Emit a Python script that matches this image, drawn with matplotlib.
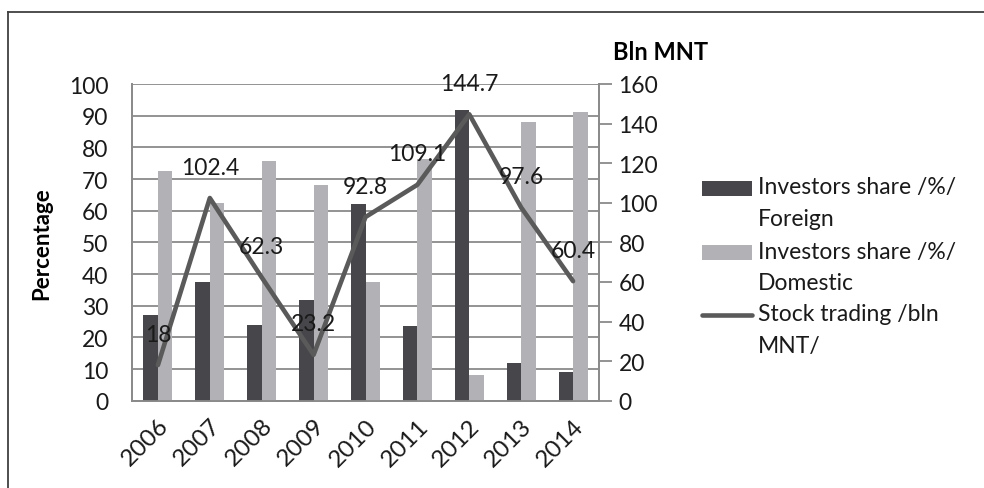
import matplotlib
matplotlib.use("Agg")
import matplotlib.pyplot as plt
import numpy as np
from matplotlib.patches import Rectangle
from matplotlib.lines import Line2D

plt.rcParams['font.family'] = ['Lato', 'DejaVu Sans']

years = ['2006', '2007', '2008', '2009', '2010', '2011', '2012', '2013', '2014']
foreign = [27.1, 37.4, 24.0, 31.8, 62.1, 23.5, 91.8, 11.9, 9.0]
domestic = [72.6, 62.4, 75.8, 68.0, 37.6, 76.3, 8.0, 87.9, 91.1]
trading = [18, 102.4, 62.3, 23.2, 92.8, 109.1, 144.7, 97.6, 60.4]
trading_labels = ['18', '102.4', '62.3', '23.2', '92.8', '109.1', '144.7', '97.6', '60.4']
left_ticks = [0, 10, 20, 30, 40, 50, 60, 70, 80, 90, 100]
right_ticks = [0, 20, 40, 60, 80, 100, 120, 140, 160]

C_FOR = '#47474b'
C_DOM = '#b2b2b6'
C_LINE = '#5a5a5a'
C_GRID = '#8a8a8a'
FS = 16.5

W, H = 984, 489
fig = plt.figure(figsize=(W / 100, H / 100), dpi=100)
fig.patch.set_facecolor('white')

L, R, T, B = 132, 599, 85, 401.7
ax = fig.add_axes([L / W, 1 - B / H, (R - L) / W, (B - T) / H])
ax2 = ax.twinx()

x = np.arange(len(years))
bw = 0.28
ax.bar(x - bw / 2, foreign, bw, color=C_FOR, zorder=3)
ax.bar(x + bw / 2, domestic, bw, color=C_DOM, zorder=3)
ax.set_xlim(-0.5, len(years) - 0.5)
ax.set_ylim(0, 100)
ax.set_yticks(left_ticks)
ax.yaxis.grid(True, color=C_GRID, lw=1.3, zorder=0)
ax.set_axisbelow(True)
ax.tick_params(axis='y', length=0, pad=17, labelsize=FS, colors='#1a1a1a')
ax.set_xticks(x)
ax.set_xticklabels(years, rotation=45, ha='right', va='top', rotation_mode='anchor', fontsize=17.5, color='#1a1a1a')
ax.tick_params(axis='x', length=0, pad=10)

ax2.plot(x, trading, color=C_LINE, lw=3.3, zorder=4, solid_capstyle='round')
ax2.set_ylim(0, 160)
ax2.set_yticks(right_ticks)
ax2.tick_params(axis='y', length=9, width=1.3, color=C_GRID, pad=5, labelsize=FS, colors='#1a1a1a')
ax2.tick_params(axis='y', color=C_GRID)
for xi, v, lab in zip(x, trading, trading_labels):
    ax2.annotate(lab, (xi, v), xytext=(0, 31), textcoords='offset pixels',
                 ha='center', va='center', fontsize=FS, color='#1a1a1a', zorder=5)

for a in (ax, ax2):
    for s in a.spines.values():
        s.set_color(C_GRID)
        s.set_linewidth(1.3)
    a.spines['top'].set_visible(False)

ax.set_ylabel('Percentage', fontsize=16, fontweight='bold')
ax.yaxis.set_label_coords((52 - L) / (R - L), 0.5)

fig.text(661 / W, 1 - 52 / H, 'Bln MNT', fontsize=17, fontweight='bold', ha='center', va='center')

# legend (manual)
def fy(p):
    return 1 - p / H
fig.patches.append(Rectangle((702 / W, fy(197)), 50 / W, 15 / H, transform=fig.transFigure,
                             facecolor=C_FOR, edgecolor='none'))
fig.patches.append(Rectangle((702 / W, fy(261)), 50 / W, 15 / H, transform=fig.transFigure,
                             facecolor=C_DOM, edgecolor='none'))
fig.lines.append(Line2D([702 / W, 752 / W], [fy(316), fy(316)], transform=fig.transFigure,
                        color=C_LINE, lw=3.3, solid_capstyle='round'))
legend_lines = [('Investors share /%/', 188), ('Foreign', 220),
                ('Investors share /%/', 253), ('Domestic', 284),
                ('Stock trading /bln', 315), ('MNT/', 347)]
for txt, py in legend_lines:
    fig.text(758 / W, fy(py), txt, fontsize=FS, ha='left', va='center', color='#1a1a1a')

# outer frame
fig.lines.append(Line2D([8 / W, 1.0], [fy(13), fy(13)], transform=fig.transFigure, color='#404040', lw=1.3))
fig.lines.append(Line2D([8 / W, 8 / W], [0, fy(13)], transform=fig.transFigure, color='#404040', lw=1.3))

fig.savefig('out.png', dpi=100)
